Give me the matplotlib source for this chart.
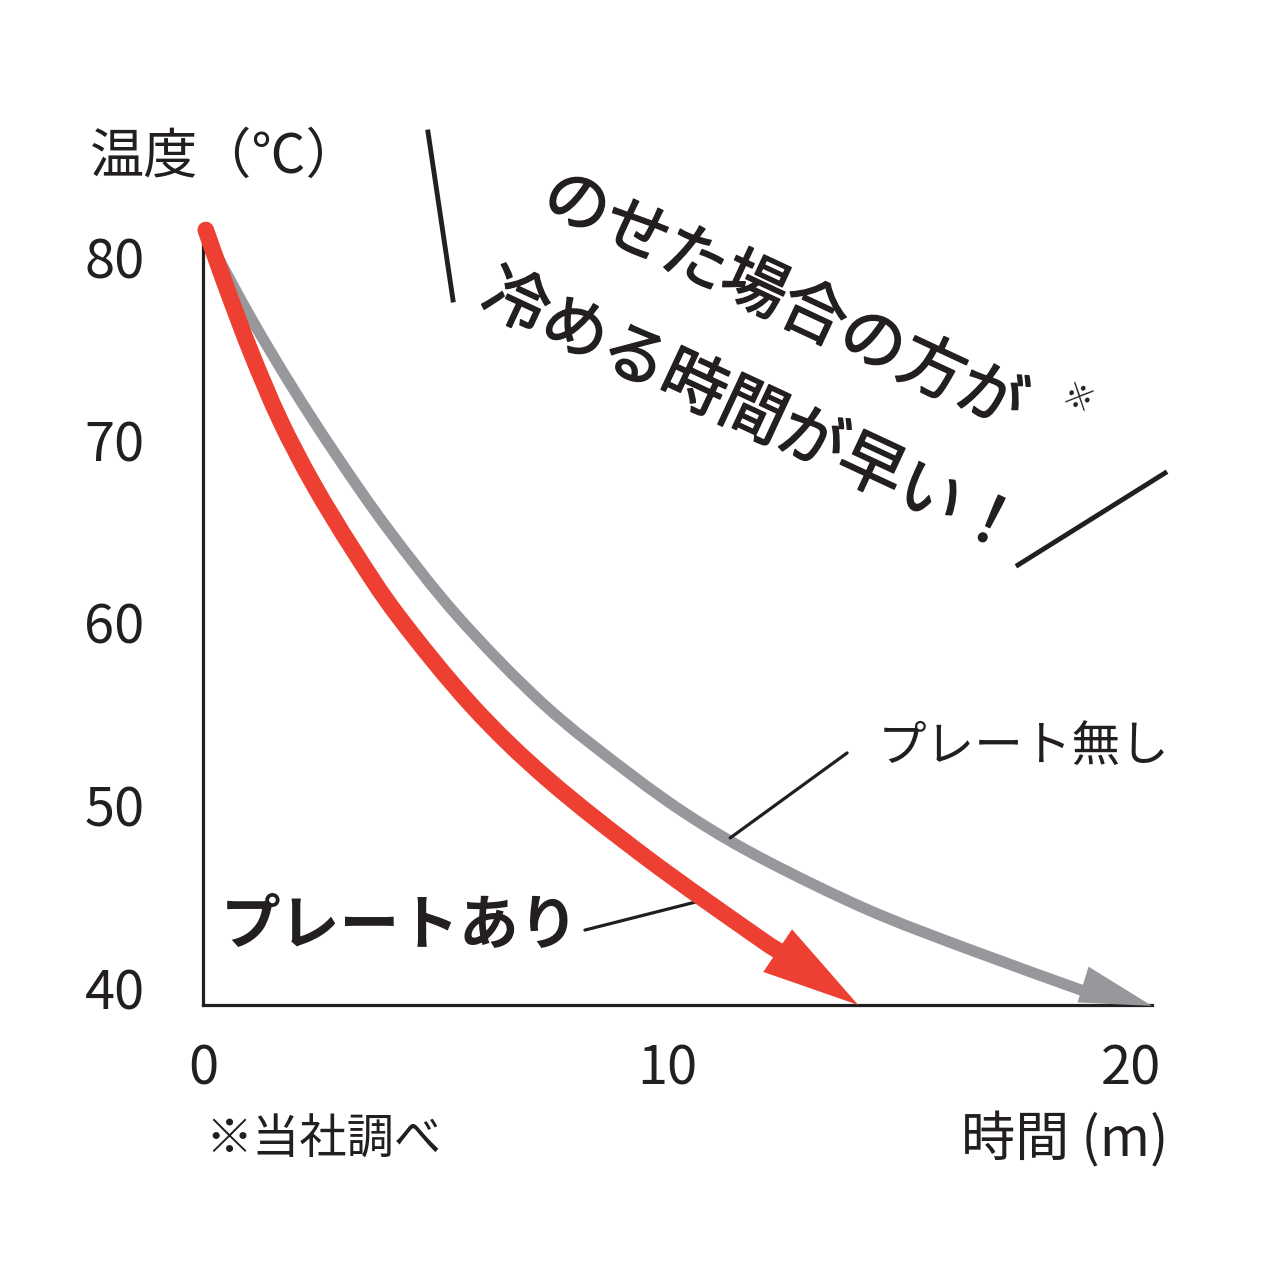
import matplotlib
matplotlib.use("Agg")
import matplotlib.pyplot as plt
import matplotlib.patheffects as pe
from matplotlib.patches import FancyArrowPatch, PathPatch
from matplotlib.path import Path
from matplotlib.lines import Line2D

plt.rcParams['font.family'] = ['Noto Sans CJK JP', 'DejaVu Sans']

# data (time in minutes, temperature in C)
plate_t = [0.06, 0.50, 1.04, 1.66, 2.37, 3.23, 4.22, 5.80, 7.44, 9.59, 11.92, 12.44]
plate_temp = [81.47, 78.35, 74.74, 71.07, 67.60, 64.00, 60.30, 55.43, 51.40, 47.06, 42.84, 41.97]
plate_tip = (14.12, 39.07)

noplate_t = [0.06, 0.32, 1.06, 1.92, 2.84, 3.99, 5.50, 7.35, 9.16, 10.58, 12.11, 14.31, 16.47, 18.92]
noplate_temp = [81.47, 80.00, 76.54, 72.88, 69.27, 65.10, 60.30, 55.50, 51.80, 49.25, 47.00, 44.30, 42.15, 39.89]
noplate_tip = (20.45, 39.02)

x_ticks = [0, 10, 20]
y_ticks = [40, 50, 60, 70, 80]

RED = '#EE4032'
GRAY = '#96989B'
INK = '#231F20'


def smooth_path(xs, ys):
    # Catmull-Rom through the read points, drawn as cubic Bezier segments
    pts = list(zip(xs, ys))
    verts = [pts[0]]
    codes = [Path.MOVETO]
    for i in range(len(pts) - 1):
        p0 = pts[max(i - 1, 0)]
        p1 = pts[i]
        p2 = pts[i + 1]
        p3 = pts[min(i + 2, len(pts) - 1)]
        c1 = (p1[0] + (p2[0] - p0[0]) / 6, p1[1] + (p2[1] - p0[1]) / 6)
        c2 = (p2[0] - (p3[0] - p1[0]) / 6, p2[1] - (p3[1] - p1[1]) / 6)
        verts += [c1, c2, p2]
        codes += [Path.CURVE4] * 3
    return Path(verts, codes)


fig = plt.figure(figsize=(12.8, 12.8), dpi=100)
fig.patch.set_facecolor('white')
ax = fig.add_axes([203 / 1280, 275 / 1280, 949 / 1280, 777 / 1280])
ax.set_xlim(0, 20.45)
ax.set_ylim(39.07, 81.58)
for s in ['top', 'right']:
    ax.spines[s].set_visible(False)
for s in ['left', 'bottom']:
    ax.spines[s].set_linewidth(2.3)
    ax.spines[s].set_color(INK)
    ax.spines[s].set_zorder(1)

ax.set_xticks(x_ticks)
ax.set_xticklabels([str(v) for v in x_ticks])
ax.set_yticks(y_ticks)
ax.set_yticklabels([str(v) for v in y_ticks])
ax.tick_params(axis='both', length=0, labelsize=39, labelcolor=INK)
ax.tick_params(axis='y', pad=42)
ax.tick_params(axis='x', pad=26)

# curves
ax.add_patch(PathPatch(smooth_path(noplate_t, noplate_temp), fill=False, edgecolor=GRAY,
                       lw=8, capstyle='round', joinstyle='round', clip_on=False, zorder=3))
ax.add_patch(PathPatch(smooth_path(plate_t, plate_temp), fill=False, edgecolor=RED,
                       lw=12, capstyle='round', joinstyle='round', clip_on=False, zorder=4))

# arrow heads
ax.add_patch(FancyArrowPatch((noplate_t[-2], noplate_temp[-2]), noplate_tip,
                             arrowstyle='-|>,head_length=52,head_width=13.5',
                             mutation_scale=1, lw=0, color=GRAY, shrinkA=0, shrinkB=0,
                             clip_on=False, zorder=3))
ax.add_patch(FancyArrowPatch((plate_t[-2], plate_temp[-2]), plate_tip,
                             arrowstyle='-|>,head_length=70,head_width=18.5',
                             mutation_scale=1, lw=0, color=RED, shrinkA=0, shrinkB=0,
                             clip_on=False, zorder=4))

# labels with leader lines
ax.annotate('', xy=(11.36, 48.21), xytext=(13.88, 52.86),
            arrowprops=dict(arrowstyle='-', lw=2.3, color=INK, shrinkA=0, shrinkB=0))
ax.text(14.53, 53.18, 'プレート無し', fontsize=35, color=INK, ha='left', va='center')
ax.annotate('', xy=(10.78, 44.81), xytext=(8.23, 43.17),
            arrowprops=dict(arrowstyle='-', lw=2.3, color=INK, shrinkA=0, shrinkB=0))
ax.text(8.10, 43.34, 'プレートあり', fontsize=43, fontweight='bold', color=INK,
        ha='right', va='center')

# axis titles and note
fig.text(90 / 1280, 1 - 157 / 1280, '温度（℃）', fontsize=39, color=INK, ha='left', va='center')
fig.text(1168 / 1280, 1 - 1140 / 1280, '時間 (m)', fontsize=39, color=INK, ha='right', va='center')
fig.text(205 / 1280, 1 - 1140 / 1280, '※当社調べ', fontsize=34, color=INK, ha='left', va='center')

# slanted headline
heavy = [pe.withStroke(linewidth=1.1, foreground=INK)]
fig.text(783 / 1280, 1 - 302 / 1280, 'のせた場合の方が', fontsize=47, color=INK,
         rotation=-25, rotation_mode='anchor', ha='center', va='center', path_effects=heavy)
fig.text(752 / 1280, 1 - 414 / 1280, '冷める時間が早い！', fontsize=47, color=INK,
         rotation=-25, rotation_mode='anchor', ha='center', va='center', path_effects=heavy)
fig.text(1078 / 1280, 1 - 400 / 1280, '※', fontsize=22, color=INK, rotation=-25,
         rotation_mode='anchor', ha='center', va='center')

# decorative strokes around the headline
fig.add_artist(Line2D([428 / 1280, 453 / 1280], [1 - 132 / 1280, 1 - 300 / 1280],
                      lw=3.5, color=INK))
fig.add_artist(Line2D([1165 / 1280, 1018 / 1280], [1 - 473 / 1280, 1 - 565 / 1280],
                      lw=3.5, color=INK))

fig.savefig('out.png', dpi=100, facecolor='white')
